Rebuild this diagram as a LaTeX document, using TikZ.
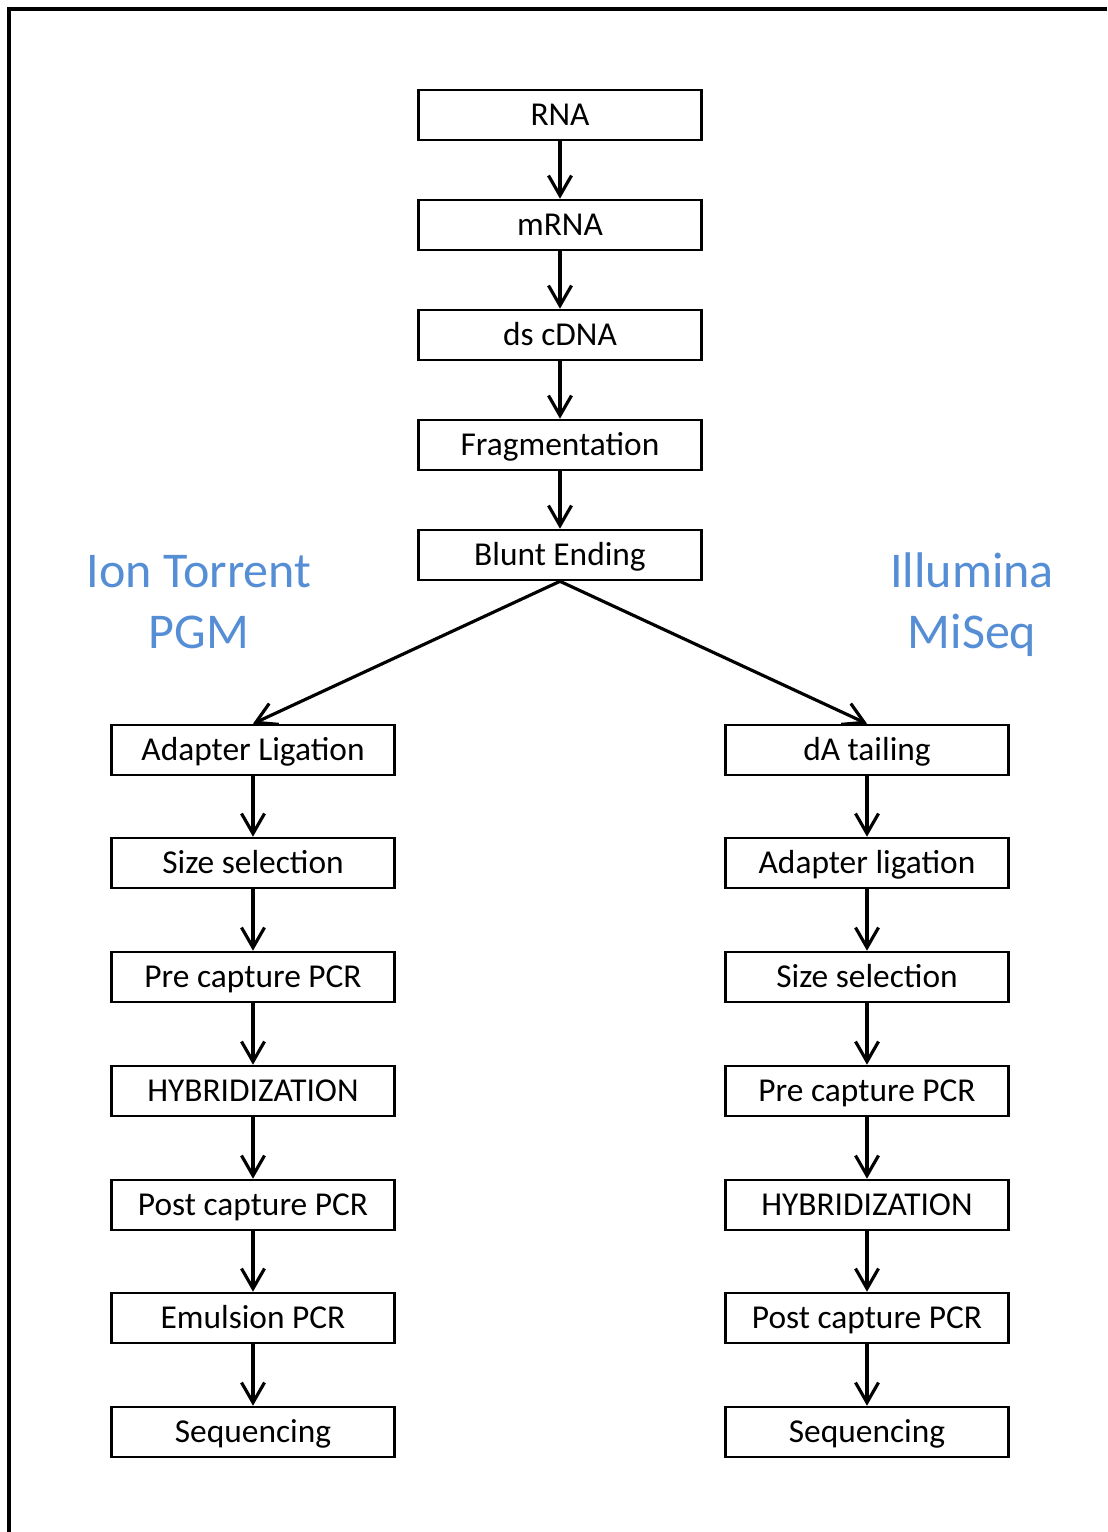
\documentclass[tikz,border=0pt]{standalone}
\usepackage{fontspec}
\setmainfont{Carlito}
\usetikzlibrary{arrows.meta}
\definecolor{labelblue}{RGB}{85,142,213}

\begin{document}
\begin{tikzpicture}[x=0.02cm,y=-0.02cm,
    box/.style={draw,line width=1.5pt,minimum width=5.66cm,minimum height=1cm,inner sep=0pt,
      text height=12.2pt,text depth=0pt,font=\fontsize{19}{23}\selectfont},
    flow/.style={line width=1.8pt,-{Straight Barb[length=4mm,width=4.6mm]}},
    platform/.style={text=labelblue,anchor=base,inner sep=0pt,font=\fontsize{28.5}{34}\selectfont}]

    \useasboundingbox (0,0) rectangle (1107,1532);
    %\draw [dashed] (0,0) rectangle (1107,1532);
    \draw[line width=1.8pt] (9,1532) -- (9,9) -- (1107,9);

    % common steps
    \node[box] (rna) at (560,115) {RNA};
    \node[box] (mrna) at (560,225) {mRNA};
    \node[box] (cdna) at (560,335) {ds cDNA};
    \node[box] (frag) at (560,445) {Fragmentation};
    \node[box] (blunt) at (560,555) {Blunt Ending};

    % platform labels
    \node[platform] (ion) at (199,587) {Ion Torrent};
    \node[platform] (pgm) at (199,648) {PGM};
    \node[platform] (illumina) at (972,587) {Illumina};
    \node[platform] (miseq) at (972,648) {MiSeq};

    % Ion Torrent PGM branch
    \node[box] (ionlig) at (253,750) {Adapter Ligation};
    \node[box] (ionsize) at (253,863) {Size selection};
    \node[box] (ionpre) at (253,977) {Pre capture PCR};
    \node[box] (ionhyb) at (253,1091) {HYBRIDIZATION};
    \node[box] (ionpost) at (253,1205) {Post capture PCR};
    \node[box] (ionemul) at (253,1318) {Emulsion PCR};
    \node[box] (ionseq) at (253,1432) {Sequencing};

    % Illumina MiSeq branch
    \node[box] (illtail) at (867,750) {dA tailing};
    \node[box] (illlig) at (867,863) {Adapter ligation};
    \node[box] (illsize) at (867,977) {Size selection};
    \node[box] (illpre) at (867,1091) {Pre capture PCR};
    \node[box] (illhyb) at (867,1205) {HYBRIDIZATION};
    \node[box] (illpost) at (867,1318) {Post capture PCR};
    \node[box] (illseq) at (867,1432) {Sequencing};

    \draw[flow] (rna) -- (mrna);
    \draw[flow] (mrna) -- (cdna);
    \draw[flow] (cdna) -- (frag);
    \draw[flow] (frag) -- (blunt);
    \draw[flow] (blunt.south) -- (ionlig.north);
    \draw[flow] (blunt.south) -- (illtail.north);

    \draw[flow] (ionlig) -- (ionsize);
    \draw[flow] (ionsize) -- (ionpre);
    \draw[flow] (ionpre) -- (ionhyb);
    \draw[flow] (ionhyb) -- (ionpost);
    \draw[flow] (ionpost) -- (ionemul);
    \draw[flow] (ionemul) -- (ionseq);

    \draw[flow] (illtail) -- (illlig);
    \draw[flow] (illlig) -- (illsize);
    \draw[flow] (illsize) -- (illpre);
    \draw[flow] (illpre) -- (illhyb);
    \draw[flow] (illhyb) -- (illpost);
    \draw[flow] (illpost) -- (illseq);
  \end{tikzpicture}
\end{document}
